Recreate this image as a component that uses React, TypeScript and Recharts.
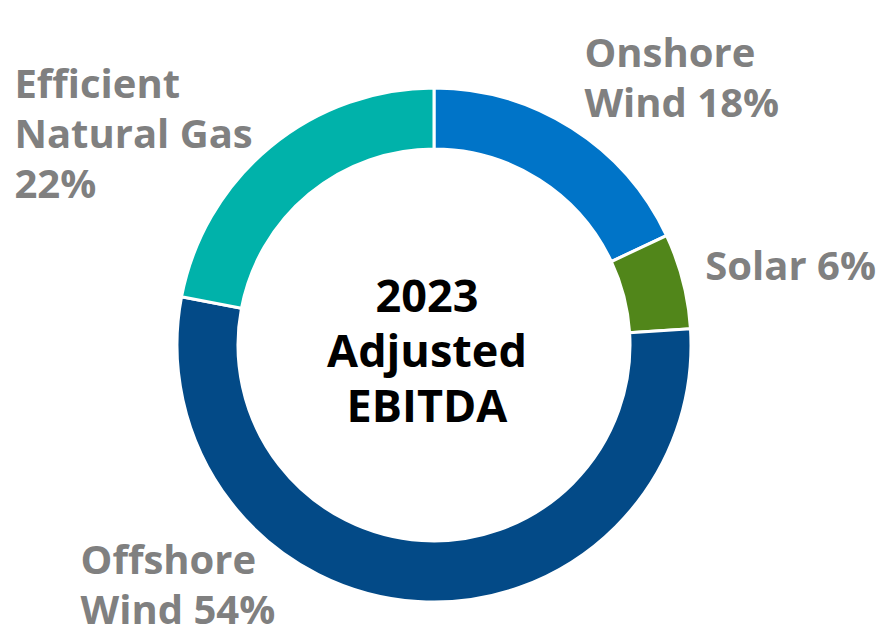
import { PieChart, Pie, Cell } from 'recharts';

const segments = ['Onshore Wind', 'Solar', 'Offshore Wind', 'Efficient Natural Gas'];
const shares = [18, 6, 54, 22];
const labelLines = [
    ['Onshore', 'Wind 18%'],
    ['Solar 6%'],
    ['Offshore', 'Wind 54%'],
    ['Efficient', 'Natural Gas', '22%'],
];
const centerLines = ['2023', 'Adjusted', 'EBITDA'];

const colors = ['#0074C8', '#51861A', '#034A87', '#00B2AA'];

const data = segments.map((name, i) => ({ name, value: shares[i] }));

// where each label block starts, relative to the point just outside the ring at mid angle
const labelShift = [
    { dx: 2, dy: -44 },
    { dx: 3, dy: 4 },
    { dx: -336, dy: -47 },
    { dx: -243, dy: -34 },
];

const RADIAN = Math.PI / 180;
const FONT = '"Open Sans", "Noto Sans", sans-serif';

function renderLabel(props: any) {
    const { cx, cy, midAngle, outerRadius, index } = props;
    const r = outerRadius + 20;
    const s = labelShift[index];
    const x = cx + r * Math.cos(-midAngle * RADIAN) + s.dx;
    const y = cy + r * Math.sin(-midAngle * RADIAN) + s.dy;
    const lines = labelLines[index];
    return (
        <text x={x} y={y} fill="#808080" fontSize={40} fontWeight={700} fontFamily={FONT} textAnchor="start">
            {lines.map((l, i) => (
                <tspan key={i} x={x} dy={i === 0 ? 0 : 50}>{l}</tspan>
            ))}
        </text>
    );
}

export default function App() {
    // recharts adds its 5px default margin to cx / cy
    const cx = 434;
    const cy = 345;
    return (
        <div style={{ position: 'absolute', left: 0, top: 0, width: 885, height: 637, background: '#fff' }}>
            <PieChart width={885} height={637}>
                <Pie
                    data={data}
                    dataKey="value"
                    nameKey="name"
                    cx={cx - 5}
                    cy={cy - 5}
                    innerRadius={196}
                    outerRadius={257}
                    startAngle={90}
                    endAngle={-270}
                    stroke="#fff"
                    strokeWidth={3}
                    label={renderLabel}
                    labelLine={false}
                    isAnimationActive={false}
                >
                    {data.map((d, i) => (
                        <Cell key={d.name} fill={colors[i]} />
                    ))}
                </Pie>
                <text x={cx - 7} y={cy - 33} textAnchor="middle" fill="#000" fontSize={45} fontWeight={700} fontFamily={FONT}>
                    {centerLines.map((l, i) => (
                        <tspan key={i} x={cx - 7} dy={i === 0 ? 0 : 55}>{l}</tspan>
                    ))}
                </text>
            </PieChart>
        </div>
    );
}
